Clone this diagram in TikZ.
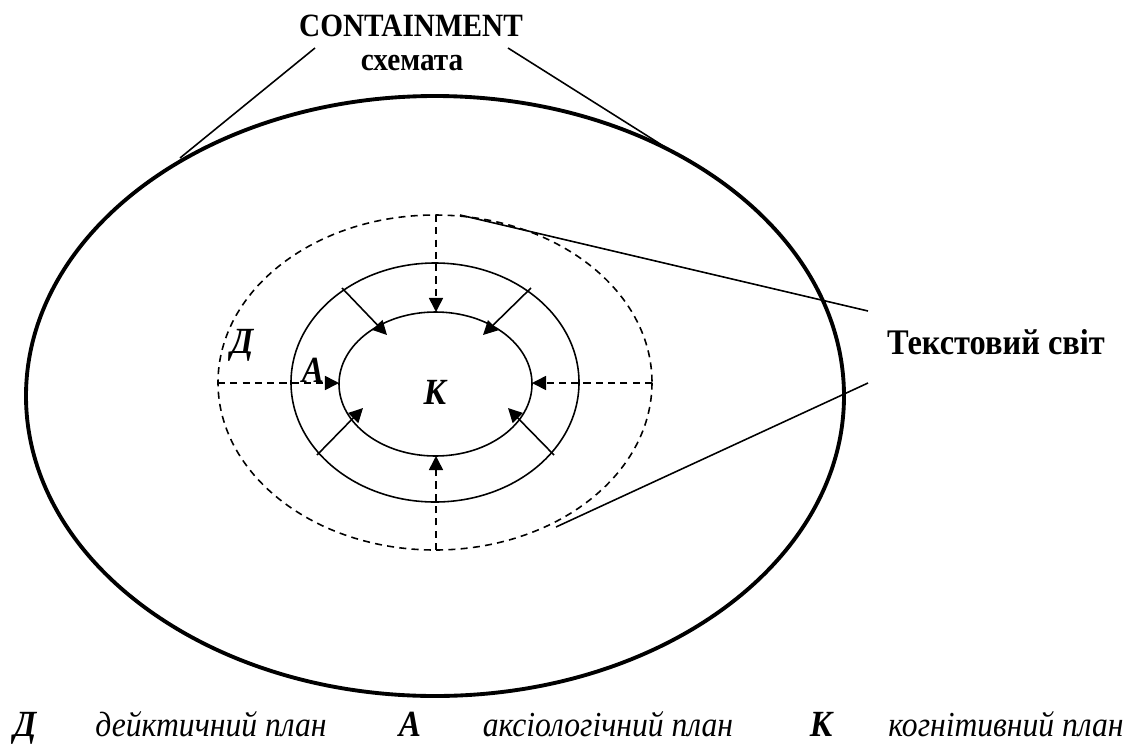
\documentclass[tikz,border=0pt]{standalone}
\usepackage{fontspec}
\setmainfont{Liberation Serif}[FakeStretch=0.9]
\usetikzlibrary{arrows.meta}
\tikzset{
    thinline/.style={line width=0.9pt},
    dashline/.style={line width=0.9pt, dash pattern=on 4pt off 3pt},
    tip/.style={-{Triangle[length=8pt,width=8pt]}},
    letter/.style={font=\fontsize{21}{21}\selectfont\bfseries\itshape},
    title/.style={font=\fontsize{18.5}{18.5}\selectfont\bfseries},
    legend/.style={font=\fontsize{20}{20}\selectfont\itshape, anchor=base, inner sep=0pt},
    legendletter/.style={legend, font=\fontsize{21}{21}\selectfont\bfseries\itshape},
}
\begin{document}
\begin{tikzpicture}[x=0.02cm, y=-0.02cm]
    \useasboundingbox (0,0) rectangle (1129,744);
    % ellipses
    \draw [line width=2.2pt] (435,396) ellipse [x radius=409, y radius=300];
    \draw [dashline] (435,382.5) ellipse [x radius=217, y radius=167.5];
    \draw [thinline] (435,382.5) ellipse [x radius=144, y radius=119.5];
    \draw [thinline] (435.5,384) ellipse [x radius=96.5, y radius=72];
    % arrow ends
    \coordinate (dl) at (218,383);
    \coordinate (kl) at (339,383);
    \coordinate (dr) at (652,383);
    \coordinate (kr) at (532,383);
    \coordinate (dt) at (436,215);
    \coordinate (kt) at (436,312);
    \coordinate (db) at (436,550);
    \coordinate (kb) at (436,456);
    \coordinate (atl) at (342,288);
    \coordinate (ktl) at (387,335);
    \coordinate (atr) at (531,288);
    \coordinate (ktr) at (483,335);
    \coordinate (abl) at (317,455);
    \coordinate (kbl) at (363,408);
    \coordinate (abr) at (554,455);
    \coordinate (kbr) at (508,408);
    \draw [dashline, tip] (dl) -- (kl);
    \draw [dashline, tip] (dr) -- (kr);
    \draw [dashline, tip] (dt) -- (kt);
    \draw [dashline, tip] (db) -- (kb);
    \draw [thinline, tip] (atl) -- (ktl);
    \draw [thinline, tip] (atr) -- (ktr);
    \draw [thinline, tip] (abl) -- (kbl);
    \draw [thinline, tip] (abr) -- (kbr);
    % labels
    \node [letter] (d) at (242,345) {Д};
    \node [letter] (a) at (313,370) {А};
    \node [letter] (k) at (435,392) {К};
    \node [title] (contain) at (411,26) {CONTAINMENT};
    \node [title] (schema) at (412,63) {схемата};
    \node [title, font=\fontsize{20.5}{20.5}\selectfont\bfseries] (world) at (996,342) {Текстовий світ};
    % pointer lines
    \coordinate (cl) at (315,48);
    \coordinate (cle) at (180,158);
    \coordinate (cr) at (508,48);
    \coordinate (cre) at (665,147);
    \coordinate (wt) at (868,311);
    \coordinate (wte) at (460,215);
    \coordinate (wb) at (868,383);
    \coordinate (wbe) at (556,527);
    \draw [thinline] (cl) -- (cle);
    \draw [thinline] (cr) -- (cre);
    \draw [thinline] (wt) -- (wte);
    \draw [thinline] (wb) -- (wbe);
    % legend
    \node [legendletter] (ld) at (25,736) {Д};
    \node [legend] (td) at (211,736) {дейктичний план};
    \node [legendletter] (la) at (410,736) {А};
    \node [legend] (ta) at (608,736) {аксіологічний план};
    \node [legendletter] (lk) at (821,736) {К};
    \node [legend] (tk) at (1006,736) {когнітивний план};
\end{tikzpicture}
\end{document}
